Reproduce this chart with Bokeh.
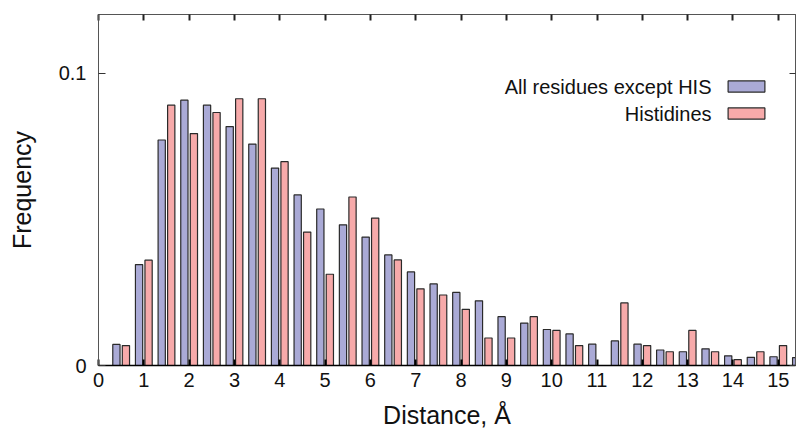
from bokeh.plotting import figure
from bokeh.models import (ColumnDataSource, Range1d, FixedTicker, LinearAxis,
                          Legend, LegendItem, Label, CustomLabelingPolicy)
from bokeh.transform import dodge
from bokeh.embed import file_html
from bokeh.resources import INLINE

# ---- data ----
bins = [0.5, 1.0, 1.5, 2.0, 2.5, 3.0, 3.5, 4.0, 4.5, 5.0, 5.5, 6.0, 6.5, 7.0, 7.5,
        8.0, 8.5, 9.0, 9.5, 10.0, 10.5, 11.0, 11.5, 12.0, 12.5, 13.0, 13.5, 14.0,
        14.5, 15.0, 15.5]
all_except_his = [0.0072, 0.0345, 0.0771, 0.0907, 0.0890, 0.0817, 0.0757, 0.0675,
                  0.0583, 0.0535, 0.0481, 0.0439, 0.0378, 0.0320, 0.0279, 0.0250,
                  0.0221, 0.0167, 0.0145, 0.0123, 0.0108, 0.0073, 0.0084, 0.0073,
                  0.0053, 0.0047, 0.0057, 0.0033, 0.0028, 0.0030, 0.0027]
histidines = [0.0068, 0.0360, 0.0890, 0.0793, 0.0865, 0.0912, 0.0912, 0.0697,
              0.0456, 0.0312, 0.0576, 0.0504, 0.0361, 0.0262, 0.0241, 0.0192,
              0.0094, 0.0094, 0.0167, 0.0120, 0.0068, 0.0000, 0.0214, 0.0068,
              0.0047, 0.0120, 0.0047, 0.0020, 0.0047, 0.0068, 0.0000]
x_ticks = list(range(0, 16))
y_ticks = [0, 0.1]
y_tick_labels = {0: "0", 0.1: "0.1"}
series_labels = ["All residues except HIS", "Histidines"]

FONT = "Liberation Sans"
BLUE = "#aaaad6"
PINK = "#f7aaaa"
EDGE = "#2a2a2a"

src = ColumnDataSource(dict(bin=bins, a=all_except_his, h=histidines))

p = figure(width=799, height=436, output_backend="svg", toolbar_location=None,
           x_range=Range1d(0, 15.38), y_range=Range1d(0, 0.12),
           min_border_left=98, min_border_right=0, min_border_top=14,
           min_border_bottom=71, background_fill_color="white",
           border_fill_color="white")
p.grid.visible = False
p.outline_line_color = "#555555"
p.outline_line_width = 1

rb = p.vbar(x=dodge("bin", -0.105), top="a", width=0.16, source=src,
            fill_color=BLUE, line_color=EDGE, line_width=1.2)
rp = p.vbar(x=dodge("bin", 0.105), top="h", width=0.16, source=src,
            fill_color=PINK, line_color=EDGE, line_width=1.2)

# bottom axis
xa = p.xaxis[0]
xa.ticker = FixedTicker(ticks=x_ticks)
xa.axis_label = "Distance, Å"
xa.axis_label_text_font = FONT
xa.axis_label_text_font_style = "normal"
xa.axis_label_text_font_size = "25px"
xa.axis_label_text_color = "#111111"
xa.axis_label_standoff = 11
xa.major_label_text_font = FONT
xa.major_label_text_font_size = "20px"
xa.major_label_text_color = "#111111"
xa.major_label_standoff = 7
xa.major_tick_in = 6
xa.major_tick_out = 0
xa.major_tick_line_width = 2
xa.major_tick_line_color = "black"
xa.minor_tick_line_color = None
xa.axis_line_color = "black"
xa.axis_line_width = 1.5

# left axis
ya = p.yaxis[0]
ya.ticker = FixedTicker(ticks=y_ticks)
ya.major_label_overrides = y_tick_labels
ya.axis_label = "Frequency"
ya.axis_label_text_font = FONT
ya.axis_label_text_font_style = "normal"
ya.axis_label_text_font_size = "25px"
ya.axis_label_text_color = "#111111"
ya.axis_label_standoff = 20
ya.major_label_text_font = FONT
ya.major_label_text_font_size = "20px"
ya.major_label_text_color = "#111111"
ya.major_label_standoff = 12
ya.major_tick_in = 7
ya.major_tick_out = 0
ya.major_tick_line_color = "#333333"
ya.minor_tick_line_color = None
ya.axis_line_color = "#555555"

# policy that draws no tick labels (tick marks only on top/right)
no_labels = CustomLabelingPolicy(code="""
    for (const i of [...indices]) { indices.unset(i) }
    return indices
""")

ta = LinearAxis(ticker=FixedTicker(ticks=x_ticks), major_label_policy=no_labels,
                major_label_text_font_size="1px",
                major_label_standoff=0, major_tick_in=6, major_tick_out=0,
                major_tick_line_width=2, major_tick_line_color="#222222",
                minor_tick_line_color=None, axis_line_color="#555555")
p.add_layout(ta, "above")

ra = LinearAxis(ticker=FixedTicker(ticks=y_ticks), major_label_policy=no_labels,
                major_label_text_font_size="1px",
                major_label_standoff=0, major_tick_in=6, major_tick_out=0,
                major_tick_line_color="#333333", minor_tick_line_color=None,
                axis_line_color="#555555")
p.add_layout(ra, "right")

# legend: swatches via Legend, texts right-aligned via Labels
leg = Legend(items=[LegendItem(label=" ", renderers=[rb]),
                    LegendItem(label=" ", renderers=[rp])],
             location=(625, 245), glyph_width=46, glyph_height=14,
             label_width=0, label_height=14, label_standoff=0,
             label_text_font_size="1px", spacing=13, padding=0, margin=0,
             border_line_color=None, background_fill_alpha=0)
p.add_layout(leg, "center")

for txt, yy in zip(series_labels, [279, 252]):
    p.add_layout(Label(x=613, y=yy, x_units="screen", y_units="screen", text=txt,
                       text_align="right", text_baseline="middle",
                       text_font=FONT, text_font_size="20px", text_color="#111111"))

open("out.html", "w").write(file_html(p, INLINE))
